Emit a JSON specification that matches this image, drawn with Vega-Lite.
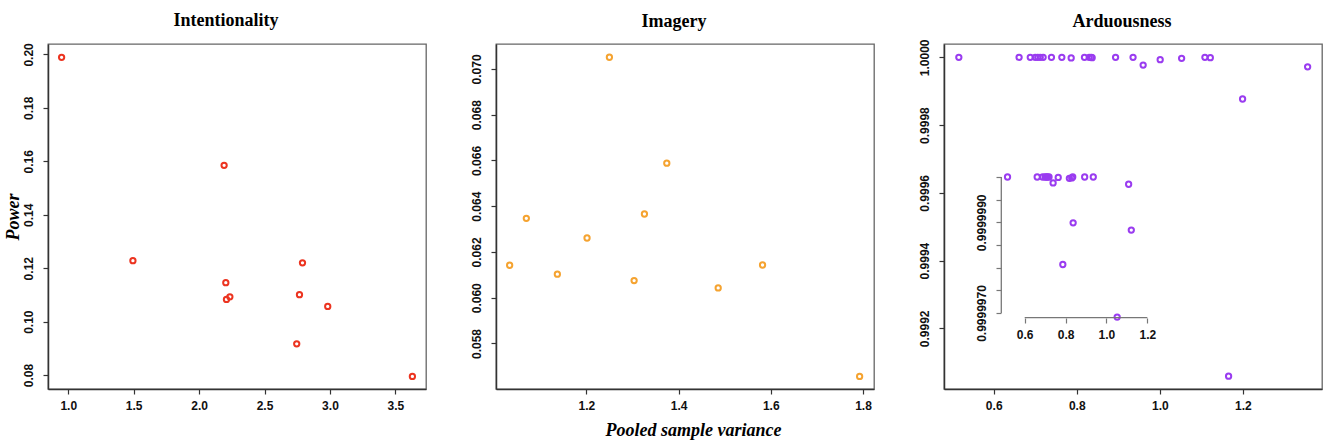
{
  "$schema": "https://vega.github.io/schema/vega-lite/v6.json",
  "background": "white",
  "padding": {"left": 3, "top": 11, "right": 0, "bottom": 0},
  "bounds": "flush",
  "spacing": 70,
  "datasets": {
    "intent": [
      {"x": 0.949, "y": 0.1989}, {"x": 1.494, "y": 0.1228}, {"x": 2.191, "y": 0.1585},
      {"x": 2.204, "y": 0.1146}, {"x": 2.209, "y": 0.1083}, {"x": 2.235, "y": 0.1093},
      {"x": 2.790, "y": 0.1220}, {"x": 2.767, "y": 0.1101}, {"x": 2.983, "y": 0.1057},
      {"x": 2.746, "y": 0.0917}, {"x": 3.630, "y": 0.0795}
    ],
    "imagery": [
      {"x": 1.0335, "y": 0.06142}, {"x": 1.0697, "y": 0.06347}, {"x": 1.137, "y": 0.06103},
      {"x": 1.2014, "y": 0.06261}, {"x": 1.2499, "y": 0.07051}, {"x": 1.3035, "y": 0.06075},
      {"x": 1.3259, "y": 0.06366}, {"x": 1.3744, "y": 0.06588}, {"x": 1.4859, "y": 0.06043},
      {"x": 1.5821, "y": 0.06143}, {"x": 1.7927, "y": 0.05656}
    ],
    "ard": [
      {"x": 0.516, "y": 1.0}, {"x": 0.6611, "y": 1.0}, {"x": 0.688, "y": 1.0},
      {"x": 0.700, "y": 1.0}, {"x": 0.706, "y": 1.0}, {"x": 0.712, "y": 1.0},
      {"x": 0.719, "y": 1.0}, {"x": 0.739, "y": 0.99999987}, {"x": 0.764, "y": 0.99999999},
      {"x": 0.7865, "y": 0.99999807}, {"x": 0.8185, "y": 0.99999997}, {"x": 0.830, "y": 0.99999998},
      {"x": 0.835, "y": 1.0}, {"x": 0.837, "y": 0.99999899}, {"x": 0.8934, "y": 1.0},
      {"x": 0.9355, "y": 1.0}, {"x": 0.9598, "y": 0.999977}, {"x": 1.0008, "y": 0.999993},
      {"x": 1.0524, "y": 0.99999691}, {"x": 1.1085, "y": 0.99999984}, {"x": 1.1215, "y": 0.99999883},
      {"x": 1.1992, "y": 0.999877}, {"x": 1.1655, "y": 0.999059}, {"x": 1.3558, "y": 0.999972}
    ]
  },
  "hconcat": [
    {
      "width": 378, "height": 345,
      "title": {"text": "Intentionality", "offset": 13, "dx": -11},
      "data": {"name": "intent"},
      "mark": {"type": "point", "shape": "circle", "filled": false, "strokeWidth": 2, "size": 28, "color": "#ec3420", "opacity": 1},
      "encoding": {
        "x": {"field": "x", "type": "quantitative", "scale": {"domain": [0.845, 3.734], "nice": false, "zero": false},
              "axis": {"values": [1.0, 1.5, 2.0, 2.5, 3.0, 3.5], "format": ".1f", "title": null, "labelPadding": 6}},
        "y": {"field": "y", "type": "quantitative", "scale": {"domain": [0.0748, 0.2039], "nice": false, "zero": false},
              "axis": {"values": [0.08, 0.10, 0.12, 0.14, 0.16, 0.18, 0.20], "format": ".2f", "title": "Power", "labelAngle": -90, "labelPadding": 8, "titlePadding": 0}}
      }
    },
    {
      "width": 378, "height": 345,
      "title": {"text": "Imagery", "offset": 13, "dx": -11},
      "data": {"name": "imagery"},
      "mark": {"type": "point", "shape": "circle", "filled": false, "strokeWidth": 2, "size": 28, "color": "#f5a330", "opacity": 1},
      "encoding": {
        "x": {"field": "x", "type": "quantitative", "scale": {"domain": [1.0039, 1.8239], "nice": false, "zero": false},
              "axis": {"values": [1.2, 1.4, 1.6, 1.8], "format": ".1f", "title": "Pooled sample variance", "labelPadding": 6, "titlePadding": 10, "titleX": 197}},
        "y": {"field": "y", "type": "quantitative", "scale": {"domain": [0.05601, 0.07109], "nice": false, "zero": false},
              "axis": {"values": [0.058, 0.060, 0.062, 0.064, 0.066, 0.068, 0.070], "format": ".3f", "title": null, "labelAngle": -90, "labelPadding": 8}}
      }
    },
    {
      "width": 378, "height": 345,
      "title": {"text": "Arduousness", "offset": 8, "dx": -11},
      "layer": [
        {
          "data": {"name": "ard"},
          "mark": {"type": "point", "shape": "circle", "filled": false, "strokeWidth": 2, "size": 28, "color": "#9a3cf0", "opacity": 1},
          "encoding": {
            "x": {"field": "x", "type": "quantitative", "scale": {"domain": [0.4803, 1.3904], "nice": false, "zero": false},
                  "axis": {"values": [0.6, 0.8, 1.0, 1.2], "format": ".1f", "title": null, "labelPadding": 6, "orient": "bottom"}},
            "y": {"field": "y", "type": "quantitative", "scale": {"domain": [0.999021, 1.0000393], "nice": false, "zero": false},
                  "axis": {"values": [0.9992, 0.9994, 0.9996, 0.9998, 1.0], "format": ".4f", "title": null, "labelAngle": -90, "labelPadding": 8, "orient": "left"}}
          }
        },
        {
          "layer": [
            {
              "data": {"name": "ard"},
              "transform": [{"filter": "datum.y >= 0.999996"}],
              "mark": {"type": "point", "shape": "circle", "filled": false, "strokeWidth": 2, "size": 28, "color": "#9a3cf0", "opacity": 1},
              "encoding": {
                "x": {"field": "x", "type": "quantitative", "scale": {"domain": [0.2052, 2.0545], "nice": false, "zero": false},
                      "axis": {"orient": "bottom", "offset": -71, "domain": false, "values": [0.6, 0.8, 1.0, 1.2], "format": ".1f", "title": null, "labelPadding": 6, "tickColor": "#777"}},
                "y": {"field": "y", "type": "quantitative", "scale": {"domain": [0.9999953234, 1.0000029343], "nice": false, "zero": false},
                      "axis": {"orient": "left", "offset": -57, "domain": false, "values": [0.999997, 0.9999975, 0.999998, 0.9999985, 0.999999, 0.9999995, 1.0],
                               "labelExpr": "abs(datum.value - 0.999999) < 1e-9 || abs(datum.value - 0.999997) < 1e-9 ? format(datum.value, '.7f') : ''",
                               "title": null, "labelAngle": -90, "labelPadding": 8, "tickColor": "#777"}}
              }
            },
            {
              "data": {"values": [{}]},
              "mark": {"type": "rule", "color": "#777", "strokeWidth": 1.3},
              "encoding": {
                "x": {"datum": 0.6, "type": "quantitative"},
                "x2": {"datum": 1.2},
                "y": {"datum": 0.9999968963, "type": "quantitative"}
              }
            },
            {
              "data": {"values": [{}]},
              "mark": {"type": "rule", "color": "#777", "strokeWidth": 1.3},
              "encoding": {
                "x": {"datum": 0.4855, "type": "quantitative"},
                "y": {"datum": 0.999997, "type": "quantitative"},
                "y2": {"datum": 1.0}
              }
            }
          ]
        }
      ],
      "resolve": {"scale": {"x": "independent", "y": "independent"}, "axis": {"x": "independent", "y": "independent"}}
    }
  ],
  "config": {
    "view": {"stroke": "#666", "strokeWidth": 1.3},
    "axis": {"grid": false, "domainColor": "#333", "domainWidth": 1.5, "tickColor": "#333", "tickSize": 5, "tickWidth": 1.2,
             "labelFont": "Liberation Sans", "labelFontWeight": "bold", "labelFontSize": 12, "labelColor": "#111",
             "labelFlush": false, "labelOverlap": false,
             "titleFont": "Liberation Serif", "titleFontWeight": "bold", "titleFontStyle": "italic", "titleFontSize": 18, "titleColor": "#000"},
    "title": {"font": "Liberation Serif", "fontSize": 18, "fontWeight": "bold", "color": "#000", "anchor": "middle"}
  }
}
